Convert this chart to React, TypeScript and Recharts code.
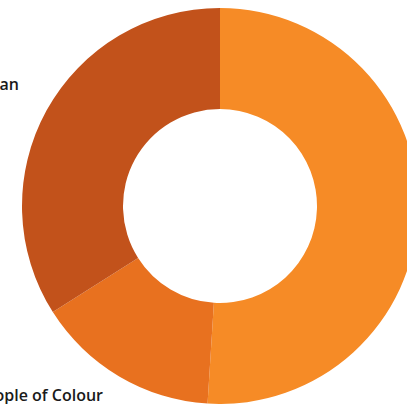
import React from "react";
import { PieChart, Pie, Cell } from "recharts";

const categories = ["Other", "People of Colour", "European"];
const values = [51, 15, 34];
const colors = ["#F68B26", "#E8711F", "#C2521B"];

const data = categories.map((name, i) => ({ name, value: values[i] }));

export default function App() {
  return (
    <div style={{ position: "absolute", left: 0, top: 0, width: 407, height: 404, background: "#fff", overflow: "hidden" }}>
      <PieChart width={407} height={404} margin={{ top: 0, right: 0, bottom: 0, left: 0 }}>
        <Pie
          data={data}
          dataKey="value"
          nameKey="name"
          cx={220}
          cy={206}
          innerRadius={97}
          outerRadius={198}
          startAngle={90}
          endAngle={-270}
          stroke="none"
          isAnimationActive={false}
        >
          {data.map((d, i) => (
            <Cell key={d.name} fill={colors[i]} />
          ))}
        </Pie>
      </PieChart>
      <svg width={407} height={404} style={{ position: "absolute", left: 0, top: 0, pointerEvents: "none" }}>
        <text x={19} y={90} textAnchor="end" fontFamily="Open Sans" fontWeight={600} fontSize={16} fill="#1a1a1a">
          {categories[2]}
        </text>
        <text x={103} y={401} textAnchor="end" fontFamily="Open Sans" fontWeight={600} fontSize={16} fill="#1a1a1a">
          {categories[1]}
        </text>
      </svg>
    </div>
  );
}
